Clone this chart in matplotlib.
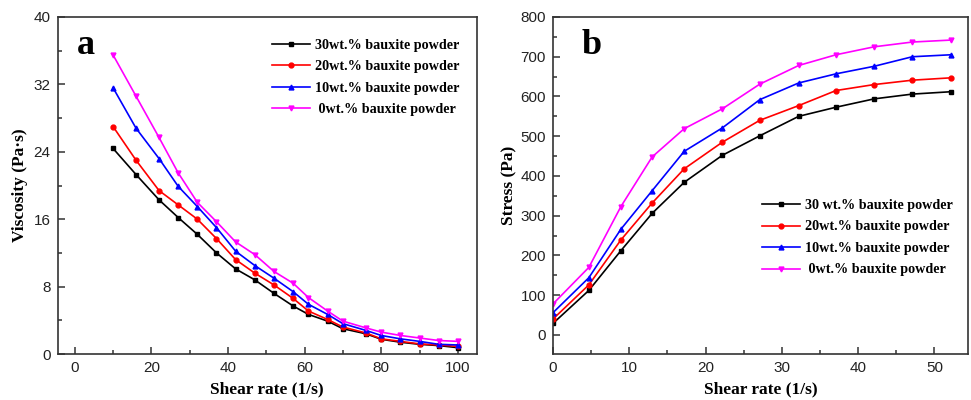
import matplotlib
matplotlib.use("Agg")
import matplotlib.pyplot as plt
from matplotlib.ticker import MultipleLocator

# ---------------- data ----------------
rate_a = [10, 16, 22, 27, 32, 37, 42, 47, 52, 57, 61, 66, 70, 76, 80, 85, 90, 95, 100]
visc_30 = [24.4, 21.3, 18.3, 16.2, 14.2, 12.0, 10.1, 8.8, 7.2, 5.7, 4.7, 3.9, 3.0, 2.4, 1.75, 1.4, 1.15, 1.0, 0.75]
visc_20 = [27.0, 23.0, 19.4, 17.7, 16.0, 13.7, 11.2, 9.6, 8.2, 6.6, 5.1, 4.1, 3.2, 2.5, 1.8, 1.5, 1.2, 1.07, 0.9]
visc_10 = [31.6, 26.8, 23.2, 19.9, 17.5, 15.0, 12.2, 10.5, 9.0, 7.4, 5.9, 4.7, 3.6, 2.8, 2.2, 1.8, 1.5, 1.15, 1.07]
visc_0 = [35.5, 30.6, 25.7, 21.5, 18.0, 15.7, 13.3, 11.8, 9.8, 8.4, 6.7, 5.1, 3.9, 3.1, 2.6, 2.2, 1.9, 1.6, 1.5]

rate_b = [0, 4.7, 8.9, 13, 17.2, 22.2, 27.1, 32.2, 37.1, 42.1, 47.1, 52.2]
stress_30 = [29, 112, 212, 306, 384, 452, 501, 550, 573, 594, 606, 612]
stress_20 = [40, 126, 239, 332, 418, 485, 540, 577, 615, 630, 641, 647]
stress_10 = [56, 144, 266, 363, 462, 521, 592, 634, 657, 676, 700, 705]
stress_0 = [78, 170, 323, 448, 519, 569, 631, 678, 705, 725, 737, 742]

labels_a = ["30wt.% bauxite powder", "20wt.% bauxite powder",
            "10wt.% bauxite powder", " 0wt.% bauxite powder"]
labels_b = ["30 wt.% bauxite powder", "20wt.% bauxite powder",
            "10wt.% bauxite powder", " 0wt.% bauxite powder"]

colors = ["#000000", "#ff0000", "#0000ff", "#ff00ff"]
markers = ["s", "o", "^", "v"]

SERIF = ["Liberation Serif", "DejaVu Serif"]
SANS = ["Liberation Sans", "DejaVu Sans"]
plt.rcParams["font.family"] = SANS

fig = plt.figure(figsize=(9.71, 4.0), dpi=100)
W, H = 971, 400
def rect(l, r, t, b):
    return [l / W, 1 - b / H, (r - l) / W, (b - t) / H]

ax1 = fig.add_axes(rect(57.5, 477, 17, 354))
ax2 = fig.add_axes(rect(553, 968, 17, 354))

def style(ax):
    for s in ax.spines.values():
        s.set_linewidth(1.2)
        s.set_color("#333333")
    ax.tick_params(which="both", direction="in", top=False, right=False,
                   labelsize=11, colors="#333333", width=1.1, pad=5)
    ax.tick_params(which="major", length=5)
    ax.tick_params(which="minor", length=3)
    for lab in ax.get_xticklabels() + ax.get_yticklabels():
        lab.set_color("#222222")

leg_kw = dict(loc="upper left", frameon=False, borderpad=0,
              handlelength=2.7, handletextpad=0.35, labelspacing=0.6,
              prop={"family": SERIF, "weight": "bold", "size": 10.2})

# ---- panel a ----
for y, c, m, l in zip([visc_30, visc_20, visc_10, visc_0], colors, markers, labels_a):
    ax1.plot(rate_a, y, color=c, marker=m, markersize=3.5, linewidth=1.2, label=l)
ax1.set_xlim(-4.5, 105)
ax1.set_ylim(0, 40)
ax1.xaxis.set_major_locator(MultipleLocator(20))
ax1.xaxis.set_minor_locator(MultipleLocator(10))
ax1.yaxis.set_major_locator(MultipleLocator(8))
ax1.yaxis.set_minor_locator(MultipleLocator(4))
style(ax1)
ax1.set_xlabel("Shear rate (1/s)", family=SERIF, fontweight="bold", fontsize=12.5, labelpad=4.5)
ax1.set_ylabel("Viscosity (Pa\u00b7s)", family=SERIF, fontweight="bold", fontsize=12.5, labelpad=4)
ax1.text(0.068, 0.914, "a", transform=ax1.transAxes, family=SERIF, fontweight="bold",
         fontsize=26, ha="center", va="center")
ax1.legend(bbox_to_anchor=(0.494, 0.956), **leg_kw)

# ---- panel b ----
for y, c, m, l in zip([stress_30, stress_20, stress_10, stress_0], colors, markers, labels_b):
    ax2.plot(rate_b, y, color=c, marker=m, markersize=3.5, linewidth=1.2, label=l)
ax2.set_xlim(0, 54.4)
ax2.set_ylim(-48, 800)
ax2.xaxis.set_major_locator(MultipleLocator(10))
ax2.xaxis.set_minor_locator(MultipleLocator(5))
ax2.yaxis.set_major_locator(MultipleLocator(100))
ax2.yaxis.set_minor_locator(MultipleLocator(50))
style(ax2)
ax2.set_xlabel("Shear rate (1/s)", family=SERIF, fontweight="bold", fontsize=12.5, labelpad=4.5)
ax2.set_ylabel("Stress (Pa)", family=SERIF, fontweight="bold", fontsize=12.5, labelpad=2)
ax2.text(0.094, 0.914, "b", transform=ax2.transAxes, family=SERIF, fontweight="bold",
         fontsize=26, ha="center", va="center")
ax2.legend(bbox_to_anchor=(0.487, 0.481), **leg_kw)

fig.savefig("out.png", dpi=100)
